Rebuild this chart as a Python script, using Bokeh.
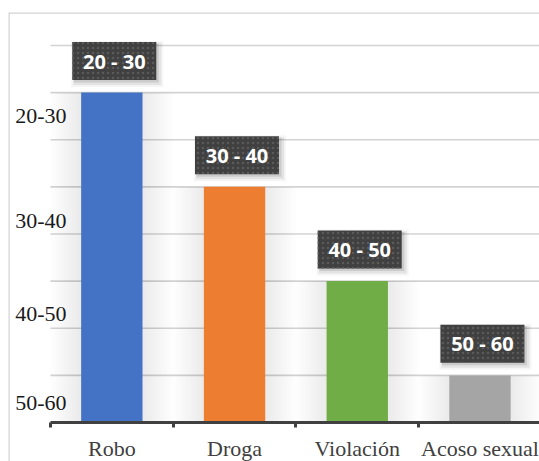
import numpy as np
from bokeh.plotting import figure
from bokeh.models import Range1d, FixedTicker, ColumnDataSource, Span
from bokeh.core.properties import value
from bokeh.embed import file_html
from bokeh.resources import INLINE

# ---- data ----
categories = ["Robo", "Droga", "Violación", "Acoso sexual"]
bar_values = [7, 5, 3, 1]
bar_labels = ["20 - 30", "30 - 40", "40 - 50", "50 - 60"]
bar_colors = ["#4472C4", "#ED7D31", "#70AD47", "#A5A5A5"]
y_tick_labels = ["20-30", "30-40", "40-50", "50-60"]
y_tick_positions = [6.51, 4.27, 2.30, 0.42]
grid_values = [1, 2, 3, 4, 5, 6, 7, 8]

xs = np.arange(len(categories)) + 0.5
tops = np.array(bar_values, dtype=float)
dx = 0.02
src = ColumnDataSource(dict(x=xs, top=tops, color=bar_colors, label=bar_labels,
                            lx=xs + dx, ly=tops + 0.67))

X0, X1 = -0.342, 3.985
Y0, Y1 = -0.8275, 8.70

p = figure(width=539, height=461, output_backend="svg", toolbar_location=None,
           x_range=Range1d(X0, X1), y_range=Range1d(Y0, Y1),
           min_border_left=8, min_border_right=0, min_border_top=12, min_border_bottom=0)
p.outline_line_color = None
p.background_fill_color = "white"
p.border_fill_color = "white"

# chart-area border (left and top)
p.add_layout(Span(location=X0, dimension="height", line_color="#d4d4d4", line_width=2.5))
p.add_layout(Span(location=Y1, dimension="width", line_color="#d4d4d4", line_width=2.5))

# horizontal grid lines, starting at the category axis
p.xgrid.grid_line_color = None
p.ygrid.grid_line_color = None
g = np.array(grid_values, dtype=float)
p.segment(x0=np.zeros_like(g), x1=np.full_like(g, X1), y0=g, y1=g,
          line_color="#d3d3d3", line_width=1.6)

# soft shadows behind bars
for k in range(1, 11):
    w = 0.5 + 0.05 * k
    p.quad(left=np.maximum(xs - w / 2, 0), right=xs + w / 2, bottom=0, top=tops,
           fill_color="black", fill_alpha=0.009, line_color=None)

p.vbar(x="x", top="top", bottom=0, width=0.5, source=src,
       fill_color="color", line_color=None)

# label boxes with soft shadow
for off, w, h, a in [(3, 92, 46, 0.04), (3, 88, 42, 0.07), (2, 85, 39, 0.10)]:
    p.rect(x=xs + dx + off / 122.7, y=tops + 0.67 - off / 47.13,
           width=w, height=h, width_units="screen", height_units="screen",
           fill_color="black", fill_alpha=a, line_color=None)
p.rect(x="lx", y="ly", width=84, height=38, width_units="screen", height_units="screen",
       source=src, fill_color="#404040", line_color=None,
       hatch_pattern="dot", hatch_color="#5a5a5a", hatch_scale=5, hatch_weight=1)
p.text(x="lx", y="ly", text="label", source=src,
       text_font=value("Open Sans"), text_font_style="bold", text_font_size="20px",
       text_color="white", text_align="center", text_baseline="middle")

# x axis (category axis at y = 0)
xa = p.xaxis[0]
xa.fixed_location = 0
xa.bounds = (0, len(categories))
xa.ticker = FixedTicker(ticks=list(xs), minor_ticks=list(np.arange(len(categories) + 1)))
xa.major_label_overrides = {float(x): c for x, c in zip(xs, categories)}
xa.major_tick_line_color = None
xa.major_tick_out = 0
xa.major_tick_in = 0
xa.minor_tick_line_color = "#404040"
xa.minor_tick_line_width = 3
xa.minor_tick_out = 5
xa.minor_tick_in = 0
xa.axis_line_color = "#404040"
xa.axis_line_width = 3
xa.major_label_standoff = 8
xa.major_label_text_font = "Liberation Serif"
xa.major_label_text_font_size = "22px"
xa.major_label_text_color = "#404040"

# y axis (labels only)
ya = p.yaxis[0]
ya.fixed_location = 0
ya.ticker = FixedTicker(ticks=y_tick_positions, minor_ticks=[])
ya.major_label_overrides = {float(t): l for t, l in zip(y_tick_positions, y_tick_labels)}
ya.axis_line_color = None
ya.major_tick_line_color = None
ya.major_tick_out = 0
ya.major_tick_in = 0
ya.minor_tick_line_color = None
ya.major_label_standoff = -16
ya.major_label_text_font = "Liberation Serif"
ya.major_label_text_font_size = "22px"
ya.major_label_text_color = "#1a1a1a"

open("out.html", "w").write(file_html(p, INLINE))
